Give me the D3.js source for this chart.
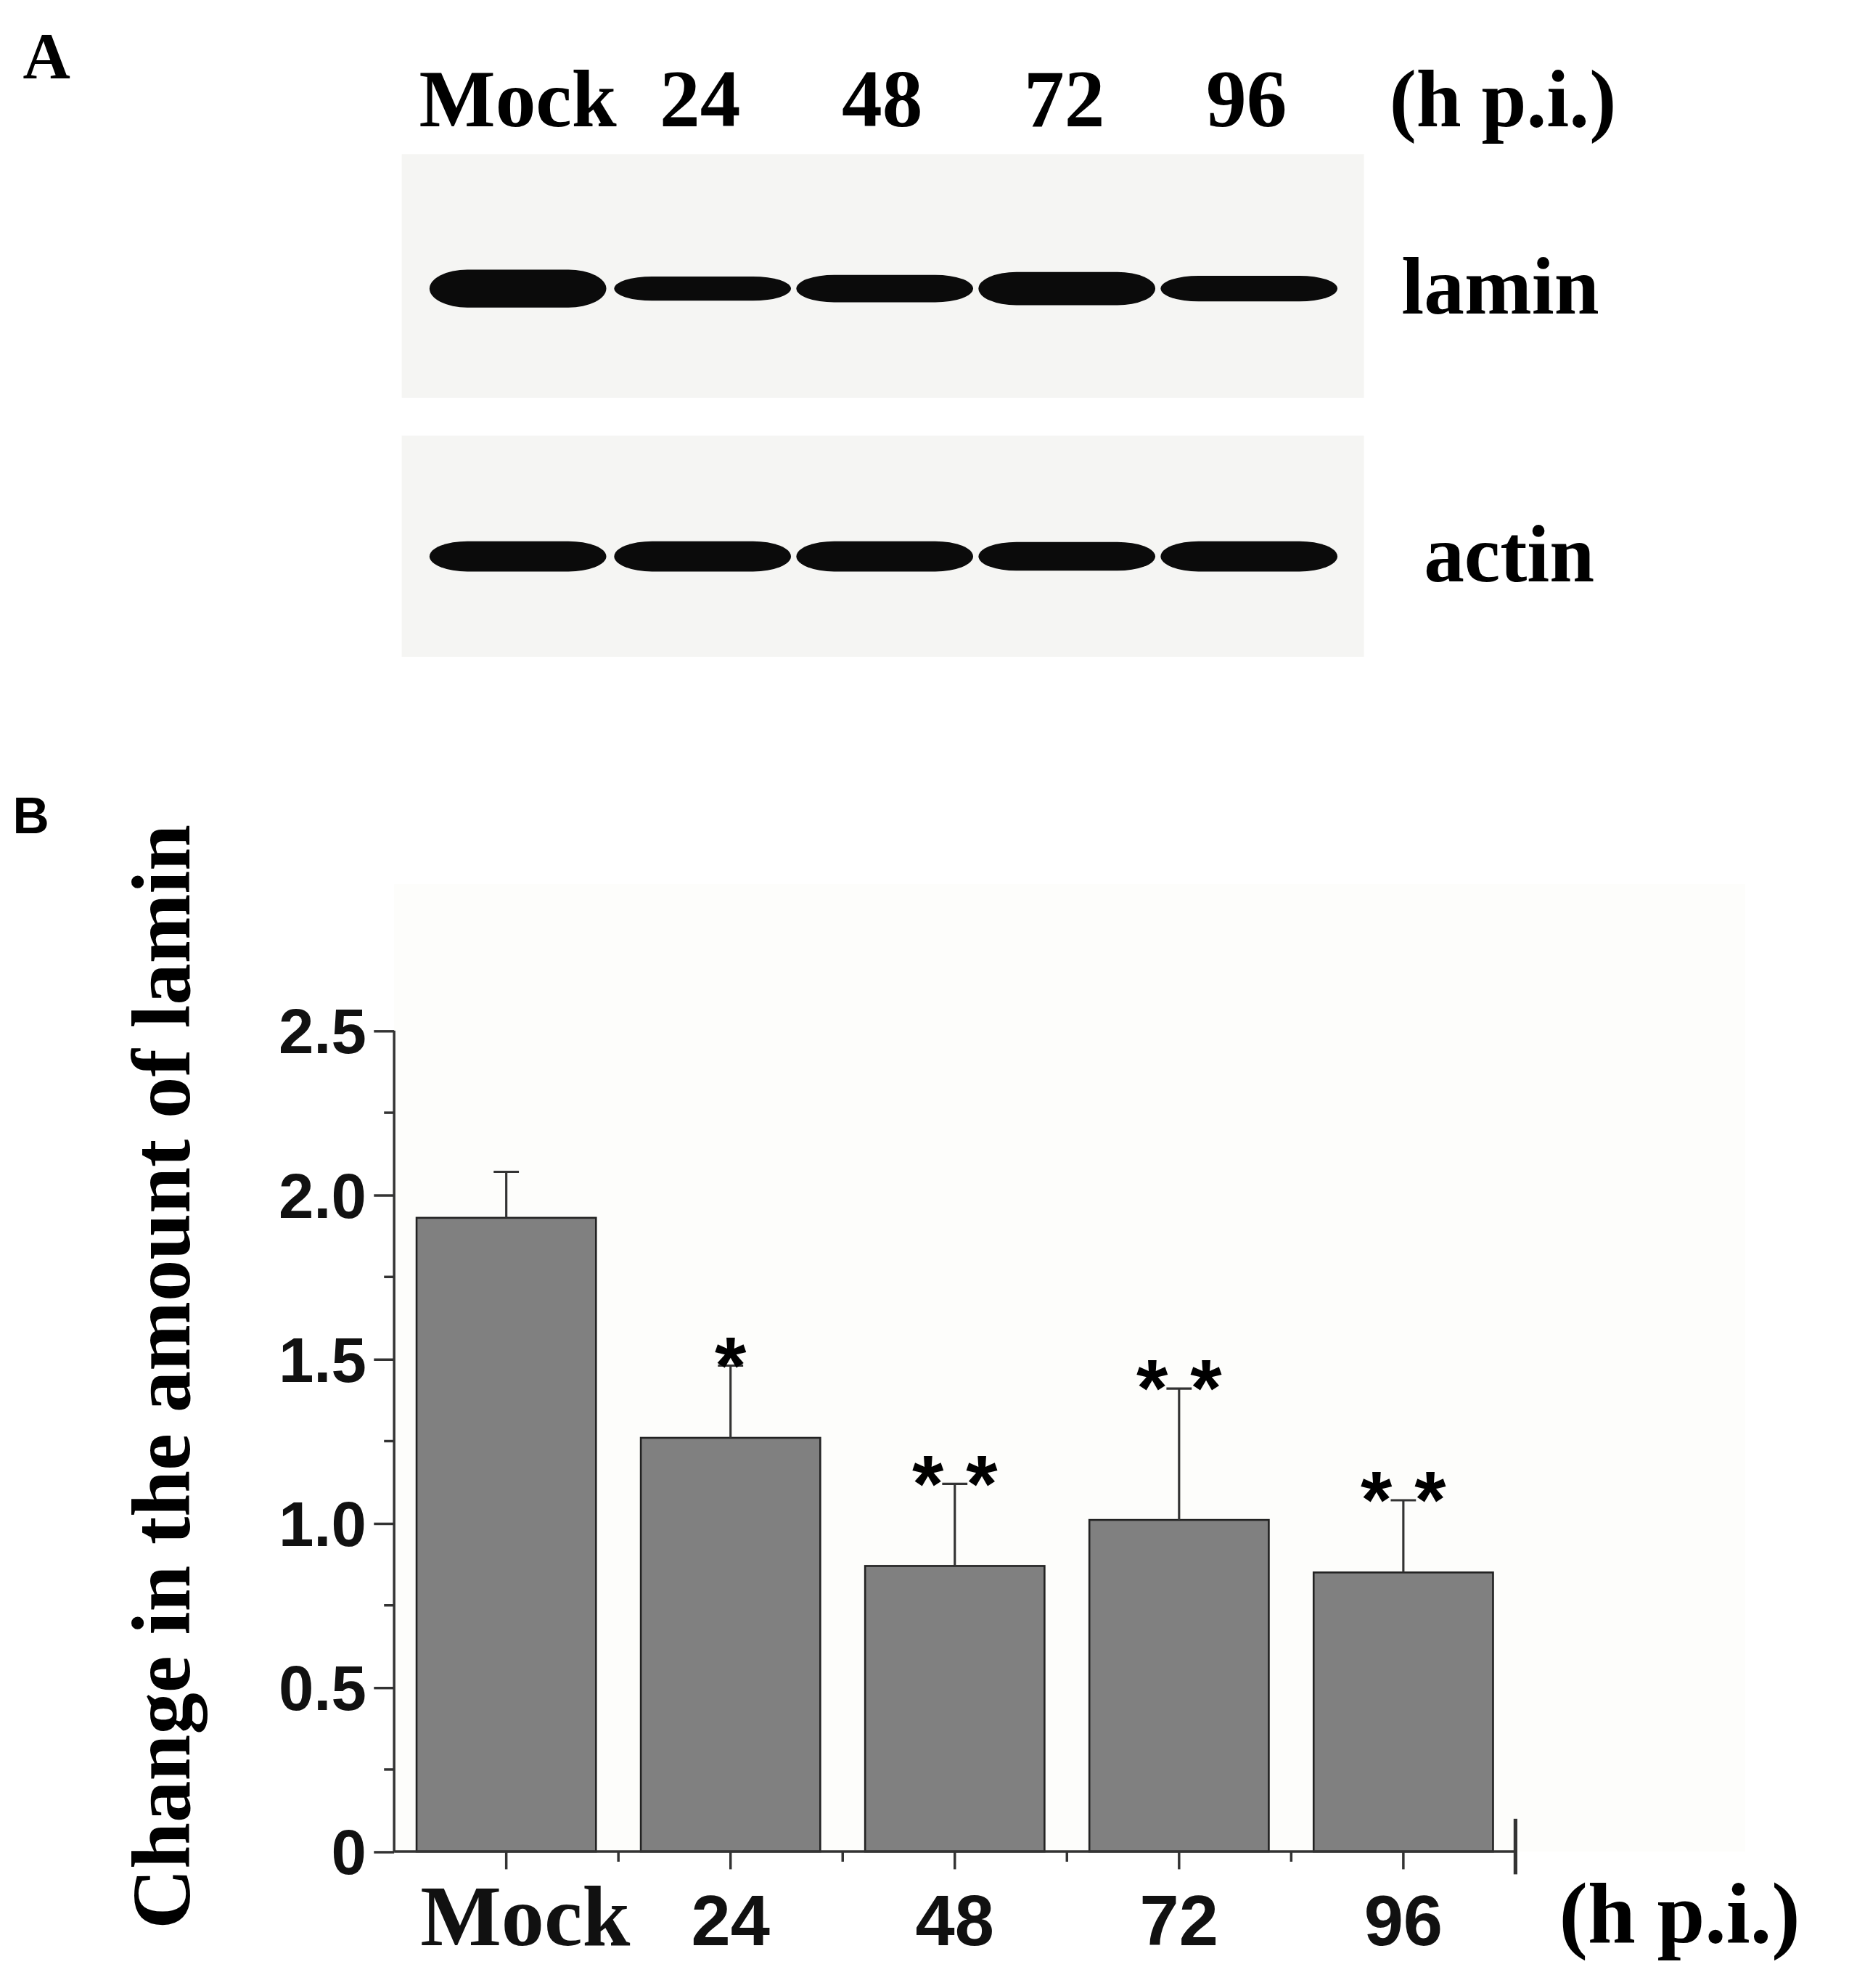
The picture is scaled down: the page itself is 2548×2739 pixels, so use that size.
<!DOCTYPE html>
<html><head><meta charset="utf-8">
<script src="https://cdn.jsdelivr.net/npm/d3@7"></script>
<style>body{margin:0;background:#fff}</style>
</head><body>
<div id="chart"></div>
<script>
const categories = ['Mock', '24', '48', '72', '96'];
const values = [1.93, 1.26, 0.87, 1.01, 0.85];
const errors = [0.14, 0.22, 0.25, 0.40, 0.22];
const stars = ['', '*', '* *', '* *', '* *'];
const yTicks = [0, 0.5, 1.0, 1.5, 2.0, 2.5];
const yTickLabels = ['0', '0.5', '1.0', '1.5', '2.0', '2.5'];
// relative band thickness read from the blot
const laminBands = [1.25, 0.8, 0.9, 1.1, 0.85];
const actinBands = [1.0, 1.0, 1.0, 0.95, 1.0];

const W = 1464, H = 1574;
const svg = d3.select('#chart').append('svg')
    .attr('width', 2548).attr('height', 2739)
    .attr('viewBox', `0 0 ${W} ${H}`);

const serif = 'Liberation Serif, Times New Roman, serif';
const sans = 'Liberation Sans, Arial, sans-serif';

// ---- panel A: blot ----
svg.append('text').attr('x', 18).attr('y', 62).text('A')
    .attr('font-family', serif).attr('font-weight', 'bold').attr('font-size', 52);

const laneX = d3.scalePoint().domain(categories).range([410, 987]);
svg.selectAll('.lanelab').data(categories).enter().append('text')
    .attr('x', d => laneX(d) + (d === 'Mock' ? 0 : 0)).attr('y', 100)
    .attr('text-anchor', 'middle').text(d => d)
    .attr('font-family', serif).attr('font-weight', 'bold').attr('font-size', 64);
svg.append('text').attr('x', 1190).attr('y', 100).attr('text-anchor', 'middle')
    .text('(h p.i.)').attr('font-family', serif).attr('font-weight', 'bold').attr('font-size', 64);

function blot(y0, h, bands, label, labelX, off) {
    svg.append('rect').attr('x', 318).attr('y', y0).attr('width', 762).attr('height', h)
        .attr('fill', '#f5f5f3');
    const cy = y0 + h / 2 + off;
    svg.selectAll(null).data(bands).enter().append('rect')
        .attr('x', (d, i) => laneX(categories[i]) - (i === 0 ? 70 : 68))
        .attr('y', d => cy - 12 * d)
        .attr('width', 140).attr('height', d => 24 * d)
        .attr('rx', 30).attr('ry', d => 12 * d)
        .attr('fill', '#0b0b0b');
    svg.append('text').attr('x', labelX).attr('y', cy + 20).attr('text-anchor', 'middle')
        .text(label).attr('font-family', serif).attr('font-weight', 'bold').attr('font-size', 64);
}
blot(122, 193, laminBands, 'lamin', 1188, 10);
blot(345, 175, actinBands, 'actin', 1195, 8);

// ---- panel B: bar chart ----
svg.append('text').attr('x', 10).attr('y', 660).text('B')
    .attr('font-family', sans).attr('font-weight', 'bold').attr('font-size', 40);

svg.append('rect').attr('x', 312).attr('y', 700).attr('width', 1070).attr('height', 766)
    .attr('fill', '#fdfdfb');

const y = d3.scaleLinear().domain([0, 2.5]).range([1466, 816]);
const x = d3.scaleBand().domain(categories).range([312, 1200]).paddingInner(0.2).paddingOuter(0.1);

svg.selectAll('.bar').data(values).enter().append('rect')
    .attr('x', (d, i) => x(categories[i])).attr('y', d => y(d))
    .attr('width', x.bandwidth()).attr('height', d => y(0) - y(d))
    .attr('fill', '#808080').attr('stroke', '#222').attr('stroke-width', 1.5);

const cx = c => x(c) + x.bandwidth() / 2;
const eb = svg.append('g').attr('stroke', '#333').attr('stroke-width', 1.8);
values.forEach((v, i) => {
    const c = cx(categories[i]);
    eb.append('line').attr('x1', c).attr('x2', c).attr('y1', y(v)).attr('y2', y(v + errors[i]));
    eb.append('line').attr('x1', c - 10).attr('x2', c + 10).attr('y1', y(v + errors[i])).attr('y2', y(v + errors[i]));
});

svg.selectAll('.star').data(stars).enter().append('text')
    .attr('x', (d, i) => cx(categories[i]))
    .attr('y', (d, i) => y(values[i] + errors[i]) + 22)
    .attr('text-anchor', 'middle').text(d => d)
    .attr('font-family', sans).attr('font-weight', 'bold').attr('font-size', 64);

// y axis
const yAxis = d3.axisLeft(y).tickValues(yTicks).tickFormat((d, i) => yTickLabels[i]).tickSize(16);
const ya = svg.append('g').attr('transform', 'translate(312,0)').call(yAxis);
ya.select('.domain').attr('stroke', '#333').attr('stroke-width', 2).attr('d', `M0,${y(0)}V${y(2.5)}`);
ya.selectAll('.tick line').attr('stroke', '#333').attr('stroke-width', 2);
ya.selectAll('.tick text').attr('font-family', sans).attr('font-weight', 'bold')
    .attr('font-size', 50).attr('fill', '#111').attr('x', -22).attr('dy', '0.35em');
// minor ticks
svg.append('g').selectAll('line').data(d3.range(0.25, 2.5, 0.5)).enter().append('line')
    .attr('x1', 304).attr('x2', 312).attr('y1', d => y(d)).attr('y2', d => y(d))
    .attr('stroke', '#333').attr('stroke-width', 2);

// x axis
const xa = svg.append('g').attr('transform', `translate(0,${y(0)})`);
xa.append('line').attr('x1', 312).attr('x2', 1200).attr('stroke', '#333').attr('stroke-width', 2);
xa.append('line').attr('x1', 1200).attr('x2', 1200).attr('y1', -26).attr('y2', 18)
    .attr('stroke', '#333').attr('stroke-width', 3);
xa.selectAll('.xt').data(categories).enter().append('line')
    .attr('x1', d => cx(d)).attr('x2', d => cx(d)).attr('y1', 0).attr('y2', 14)
    .attr('stroke', '#333').attr('stroke-width', 2);
xa.selectAll('.xm').data(categories.slice(1)).enter().append('line')
    .attr('x1', d => x(d) - x.step() * 0.1).attr('x2', d => x(d) - x.step() * 0.1)
    .attr('y1', 0).attr('y2', 8).attr('stroke', '#333').attr('stroke-width', 2);
xa.selectAll('.xl').data(categories).enter().append('text')
    .attr('x', d => cx(d) + (d === 'Mock' ? 15 : 0)).attr('y', 74).attr('text-anchor', 'middle')
    .text(d => d)
    .attr('font-family', d => d === 'Mock' ? serif : sans).attr('font-weight', 'bold')
    .attr('font-size', d => d === 'Mock' ? 68 : 56).attr('fill', '#111');
xa.append('text').attr('x', 1330).attr('y', 72).attr('text-anchor', 'middle').text('(h p.i.)')
    .attr('font-family', serif).attr('font-weight', 'bold').attr('font-size', 68);

svg.append('text').attr('transform', 'translate(150,1090) rotate(-90)')
    .attr('text-anchor', 'middle').text('Change in the amount of lamin')
    .attr('font-family', serif).attr('font-weight', 'bold').attr('font-size', 66);
</script>
</body></html>
